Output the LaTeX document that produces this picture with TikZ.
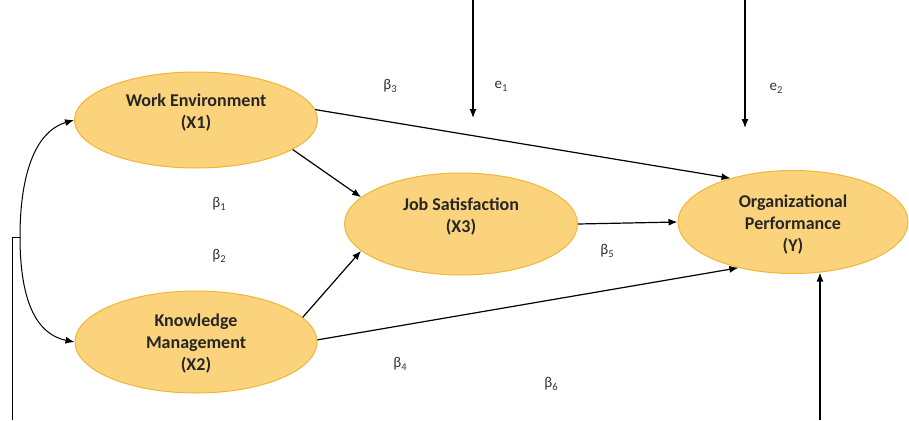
\documentclass[tikz,border=0pt]{standalone}
\usepackage{fontspec}
\setmainfont{Carlito}
\usetikzlibrary{shapes.geometric,arrows.meta}
\definecolor{varfill}{RGB}{250,211,124}
\definecolor{varline}{RGB}{240,182,52}
\newcommand\lowsub[1]{\raisebox{-.4ex}{\fontsize{10.5}{10}\selectfont #1}}
\begin{document}
\begin{tikzpicture}
  [x=1pt,y=-1pt,
   var/.style={ellipse,draw=varline,fill=varfill,line width=1pt,inner sep=0pt},
   vtext/.style={align=center,inner sep=0pt,font=\fontsize{18}{22}\selectfont\bfseries,text=black!85},
   coef/.style={font=\fontsize{15}{18}\selectfont,text=black!80,inner sep=0pt}]
  \useasboundingbox (0,0) rectangle (909,420);

  \node[var,minimum width=243pt,minimum height=96pt,
    label={[vtext,yshift=7pt]center:{Work Environment\\(X1)}}] (x1) at (196,120) {};
  \node[var,minimum width=242pt,minimum height=102pt,
    label={[vtext,yshift=-1.5pt]center:{Knowledge\\Management\\(X2)}}] (x2) at (196,342) {};
  \node[var,minimum width=233pt,minimum height=102pt,
    label={[vtext,yshift=7.5pt]center:{Job Satisfaction\\(X3)}}] (x3) at (461,224) {};
  \node[var,minimum width=230pt,minimum height=103pt,
    label={[vtext,yshift=-3pt]center:{Organizational\\Performance\\(Y)}}] (y) at (793,222) {};

  % coefficients and errors
  \node[coef] (b1) at (219,204) {β\lowsub{1}};
  \node[coef] (b2) at (219,256) {β\lowsub{2}};
  \node[coef] (b3) at (390,86) {β\lowsub{3}};
  \node[coef] (b4) at (400,364) {β\lowsub{4}};
  \node[coef] (b5) at (607,251) {β\lowsub{5}};
  \node[coef] (b6) at (551,384) {β\lowsub{6}};
  \node[coef] (e1) at (501,86) {e\lowsub{1}};
  \node[coef] (e2) at (776,88) {e\lowsub{2}};

  \coordinate (e1t) at (473,0);
  \coordinate (e1b) at (473,118);
  \coordinate (e2t) at (745,0);
  \coordinate (e2b) at (745,128);
  \coordinate (cv) at (20,237);
  \coordinate (lb) at (12,420);
  \coordinate (rb) at (820,420);

\path [-{Latex[length=9pt,width=7pt]},draw,line width=1.2pt]
(x1.5) edge (y.145)
(x1.-17) edge (x3.165)
(x2.13) edge (x3.195)
(x3.east) edge (y.west)
(x2.1) edge (y.220)
(e1t) edge (e1b)
(e2t) edge (e2b)
(rb) edge (rb |- y.-62)
;
\draw[{Latex[length=9pt,width=7pt]}-{Latex[length=9pt,width=7pt]},line width=1pt]
(x1.west) .. controls +(-40,12) and +(0,-60) .. (cv)
          .. controls +(0,60) and +(-40,-8) .. (x2.west);
\draw[line width=1pt] (lb) |- (cv);
\end{tikzpicture}
\end{document}
